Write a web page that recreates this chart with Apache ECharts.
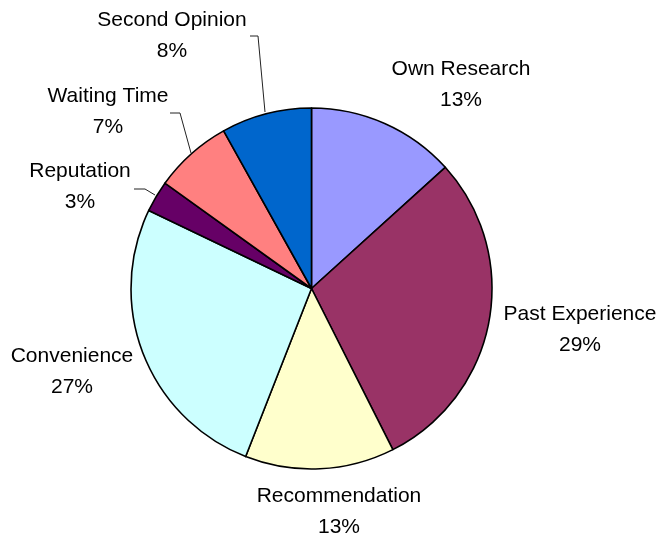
<!DOCTYPE html>
<html>
<head>
<meta charset="utf-8">
<script src="https://cdn.jsdelivr.net/npm/echarts@6/dist/echarts.min.js"></script>
<style>
  html, body { margin: 0; padding: 0; background: #fff; }
  #chart { width: 661px; height: 541px; }
</style>
</head>
<body>
<div id="chart"></div>
<script>
const categories = ['Own Research', 'Past Experience', 'Recommendation', 'Convenience', 'Reputation', 'Waiting Time', 'Second Opinion']
// slice sizes as drawn
const shares = [13.3, 29.3, 13.4, 26.2, 2.8, 7.0, 8.1]
// percentages as printed on the chart
const pctLabels = ['13%', '29%', '13%', '27%', '3%', '7%', '8%']
const colors = ['#9999ff', '#993366', '#ffffcc', '#ccffff', '#660066', '#ff8080', '#0066cc']

// label centres and leader lines, in pixels
const labelPos = [[461, 85], [580, 330], [339, 512], [72, 372], [80, 187], [108, 112], [172, 36]]
const leaders = {
  4: [[155, 195], [145, 189], [134, 189]],
  5: [[191, 153], [180, 113], [170, 113]],
  6: [[265, 112], [258, 36], [250, 36]]
}

const chart = echarts.init(document.getElementById('chart'))

const option = {
  animation: false,
  series: [
    {
      type: 'pie',
      center: [311.5, 288.5],
      radius: 180.5,
      startAngle: 90,
      clockwise: true,
      itemStyle: {
        borderColor: '#000',
        borderWidth: 1.6
      },
      label: {
        show: true,
        position: 'outside',
        formatter: (p) => p.name + '\n' + pctLabels[p.dataIndex],
        color: '#000',
        fontFamily: 'Liberation Sans, Arial, sans-serif',
        fontSize: 21,
        lineHeight: 31,
        align: 'center',
        overflow: 'none'
      },
      labelLine: {
        show: true,
        lineStyle: { color: '#222', width: 1 }
      },
      labelLayout: (params) => {
        const p = labelPos[params.dataIndex]
        const res = { x: p[0], y: p[1], align: 'center', verticalAlign: 'middle' }
        if (leaders[params.dataIndex]) res.labelLinePoints = leaders[params.dataIndex]
        return res
      },
      data: categories.map((name, i) => ({
        name: name,
        value: shares[i],
        itemStyle: { color: colors[i] },
        labelLine: { show: !!leaders[i] }
      }))
    }
  ]
}

chart.setOption(option)
</script>
</body>
</html>
